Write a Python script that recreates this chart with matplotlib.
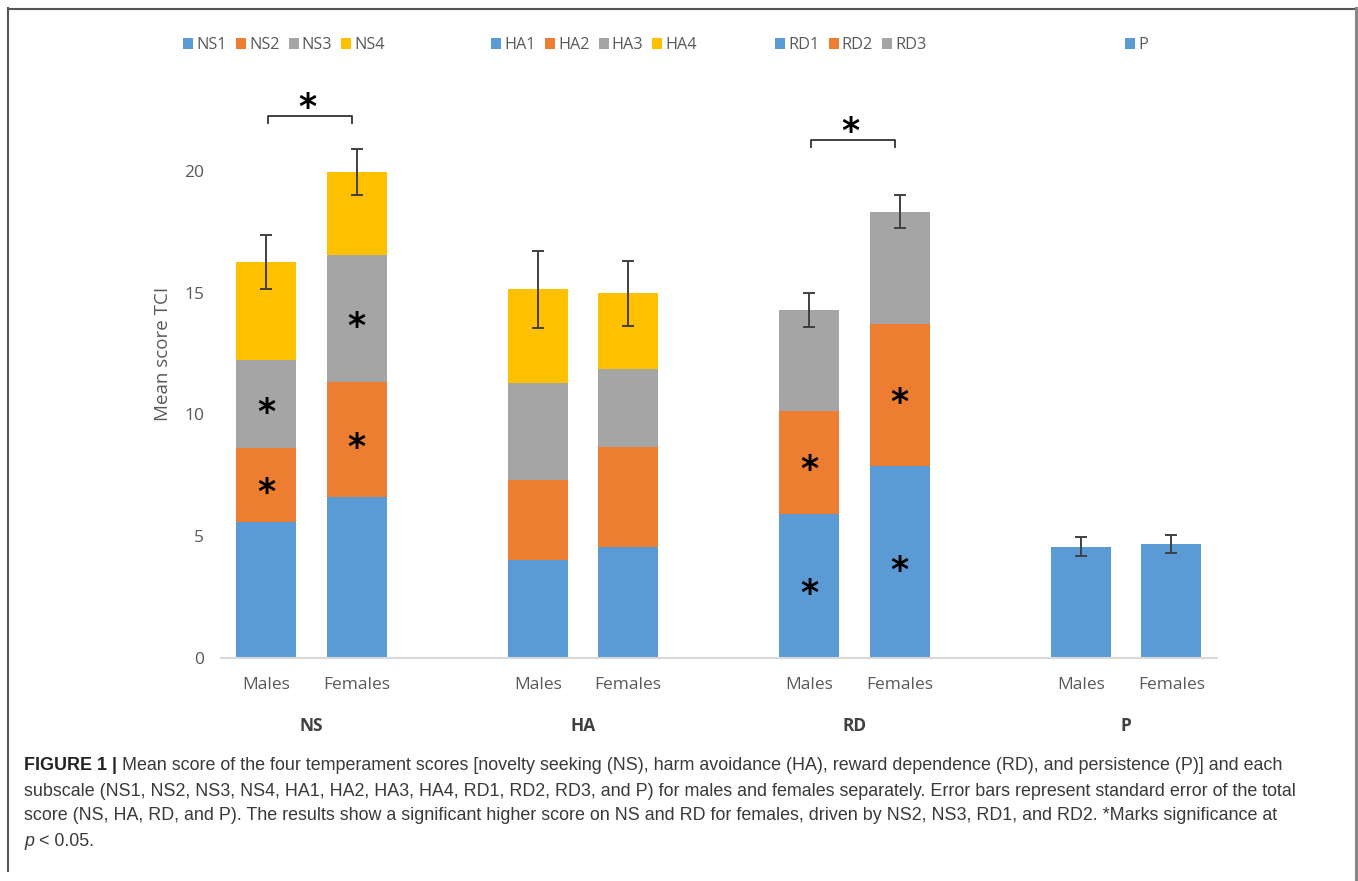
import matplotlib
matplotlib.use("Agg")
import matplotlib.pyplot as plt
from matplotlib import transforms
from matplotlib.lines import Line2D

# ---------------- data ----------------
groups = ["NS", "HA", "RD", "P"]
sexes = ["Males", "Females"]

ns_labels = ["NS1", "NS2", "NS3", "NS4"]
ns_values = [[5.60, 6.62], [3.02, 4.71], [3.60, 5.23], [4.04, 3.41]]
ns_err = [1.10, 0.95]
ns_sig = ["NS2", "NS3"]

ha_labels = ["HA1", "HA2", "HA3", "HA4"]
ha_values = [[4.02, 4.57], [3.29, 4.08], [4.00, 3.21], [3.83, 3.12]]
ha_err = [1.57, 1.34]
ha_sig = []

rd_labels = ["RD1", "RD2", "RD3"]
rd_values = [[5.93, 7.87], [4.23, 5.85], [4.13, 4.60]]
rd_err = [0.70, 0.68]
rd_sig = ["RD1", "RD2"]

p_labels = ["P"]
p_values = [[4.57, 4.68]]
p_err = [0.38, 0.37]
p_sig = []

total_sig = ["NS", "RD"]

yticks = [0, 5, 10, 15, 20]
colors = ["#5B9BD5", "#ED7D31", "#A5A5A5", "#FFC000"]

caption_lines = [
    ("FIGURE 1 | ", "Mean score of the four temperament scores [novelty seeking (NS), harm avoidance (HA), reward dependence (RD), and persistence (P)] and each"),
    ("", "subscale (NS1, NS2, NS3, NS4, HA1, HA2, HA3, HA4, RD1, RD2, RD3, and P) for males and females separately. Error bars represent standard error of the total"),
    ("", "score (NS, HA, RD, and P). The results show a significant higher score on NS and RD for females, driven by NS2, NS3, RD1, and RD2. *Marks significance at"),
]

scales = [
    ("NS", ns_labels, ns_values, ns_err, ns_sig),
    ("HA", ha_labels, ha_values, ha_err, ha_sig),
    ("RD", rd_labels, rd_values, rd_err, rd_sig),
    ("P", p_labels, p_values, p_err, p_sig),
]

# ---------------- figure ----------------
W, H = 1358, 881
fig = plt.figure(figsize=(W / 100, H / 100), dpi=100)
fig.patch.set_facecolor("white")

px_per_unit = 24.35
ymax = 24
ax_left, ax_right = 221 / W, 1216.5 / W
ax_bottom = (H - 658) / H
ax_height = ymax * px_per_unit / H
ax = fig.add_axes([ax_left, ax_bottom, ax_right - ax_left, ax_height])

chart_font = "Open Sans"
txt_col = "#595959"
star_font = dict(fontsize=25, fontweight="bold", family="DejaVu Sans", color="black",
                 ha="center", va="center")
star_tr = transforms.offset_copy(ax.transData, fig=fig, x=0, y=-6, units="points")

bar_w = 0.66
legend_x = [183, 491, 775, 1125]
legend_y = 45

for g, (name, labels, values, err, sig) in enumerate(scales):
    xs = [3 * g, 3 * g + 1]
    bottoms = [0.0, 0.0]
    handles = []
    for i, (lab, vals) in enumerate(zip(labels, values)):
        bc = ax.bar(xs, vals, width=bar_w, bottom=bottoms, color=colors[i],
                    label=lab, zorder=2)
        handles.append(bc)
        if lab in sig:
            for x, b, v in zip(xs, bottoms, vals):
                ax.text(x, b + v / 2, "*", transform=star_tr, **star_font)
        bottoms = [b + v for b, v in zip(bottoms, vals)]
    ax.errorbar(xs, bottoms, yerr=err, fmt="none", ecolor="#404040",
                elinewidth=1.4, capsize=4.5, capthick=1.4, zorder=3)
    if name in total_sig:
        top = max(b + e for b, e in zip(bottoms, err))
        yb = top + 1.05 if name == "NS" else top + 2.0
        ax.plot([xs[0] + 0.02, xs[0] + 0.02, xs[1] - 0.05, xs[1] - 0.05],
                [yb, yb + 0.27, yb + 0.27, yb], color="#333333", lw=1.3,
                clip_on=False, zorder=3)
        ax.text((xs[0] + xs[1]) / 2 - 0.05, yb + 0.95, "*", transform=star_tr,
                clip_on=False, **star_font)
    leg = fig.legend(handles=handles, labels=labels, loc="center left",
                     bbox_to_anchor=(legend_x[g] / W, 1 - legend_y / H),
                     ncol=len(labels), frameon=False, handlelength=0.62,
                     handleheight=0.62, handletextpad=0.2, columnspacing=0.55,
                     borderpad=0, borderaxespad=0,
                     prop=dict(family=chart_font, size=11.7))
    for t in leg.get_texts():
        t.set_color(txt_col)
    # group label
    ax.text(3 * g + 0.5, -0.116, name,
            transform=transforms.blended_transform_factory(ax.transData, ax.transAxes),
            ha="center", va="center", fontsize=12.5, fontweight="bold",
            family=chart_font, color="#404040")

xpos = [3 * g + s for g in range(len(groups)) for s in range(2)]
ax.set_xticks(xpos)
ax.set_xticklabels(sexes * len(groups), family=chart_font, fontsize=12.5, color=txt_col)
ax.set_yticks(yticks)
ax.set_yticklabels([str(t) for t in yticks], family=chart_font, fontsize=12.5, color=txt_col)
ax.tick_params(axis="both", length=0)
ax.tick_params(axis="y", pad=12)
ax.tick_params(axis="x", pad=14)
ax.set_xlim(-0.5, 10.5)
ax.set_ylim(0, ymax)
for s in ["top", "right", "left"]:
    ax.spines[s].set_visible(False)
ax.spines["bottom"].set_color("#D9D9D9")
ax.spines["bottom"].set_linewidth(1.5)
ax.set_ylabel("Mean score TCI", family=chart_font, fontsize=13.5, color=txt_col)
ax.yaxis.set_label_coords(-(221 - 163) / 995.5, (658 - 354) / (ymax * px_per_unit))
ax.yaxis.label.set_verticalalignment("center")

# ---------------- frame ----------------
frame_col = "#555555"
fig.add_artist(Line2D([8 / W, 8 / W], [1 - 8 / H, 1 - 871 / H], transform=fig.transFigure, color=frame_col, lw=1.5))
fig.add_artist(Line2D([8 / W, 1355.5 / W], [1 - 8.5 / H, 1 - 8.5 / H], transform=fig.transFigure, color=frame_col, lw=1.5))
fig.add_artist(Line2D([1355.5 / W, 1355.5 / W], [1 - 8 / H, 0], transform=fig.transFigure, color="#888888", lw=2.2))

# ---------------- caption ----------------
cap_font = "Liberation Sans"
cap_col = "#3a3a3a"
cap_size = 12.85
line_y = [766, 791, 816, 842]
renderer = fig.canvas.get_renderer()
x0 = 24
for (bold, rest), yy in zip(caption_lines, line_y):
    x = x0
    if bold:
        t = fig.text(x / W, 1 - yy / H, bold, fontsize=cap_size, fontweight="bold",
                     family=cap_font, color="#222222", va="center", ha="left")
        bb = t.get_window_extent(renderer)
        x = bb.x1
    fig.text(x / W, 1 - yy / H, rest, fontsize=cap_size, family=cap_font,
             color=cap_col, va="center", ha="left")
t = fig.text(x0 / W, 1 - line_y[3] / H, "p", fontsize=cap_size, style="italic",
             family=cap_font, color=cap_col, va="center", ha="left")
bb = t.get_window_extent(renderer)
fig.text(bb.x1 / W, 1 - line_y[3] / H, " < 0.05.", fontsize=cap_size,
         family=cap_font, color=cap_col, va="center", ha="left")

fig.savefig("out.png", dpi=100, facecolor="white")
